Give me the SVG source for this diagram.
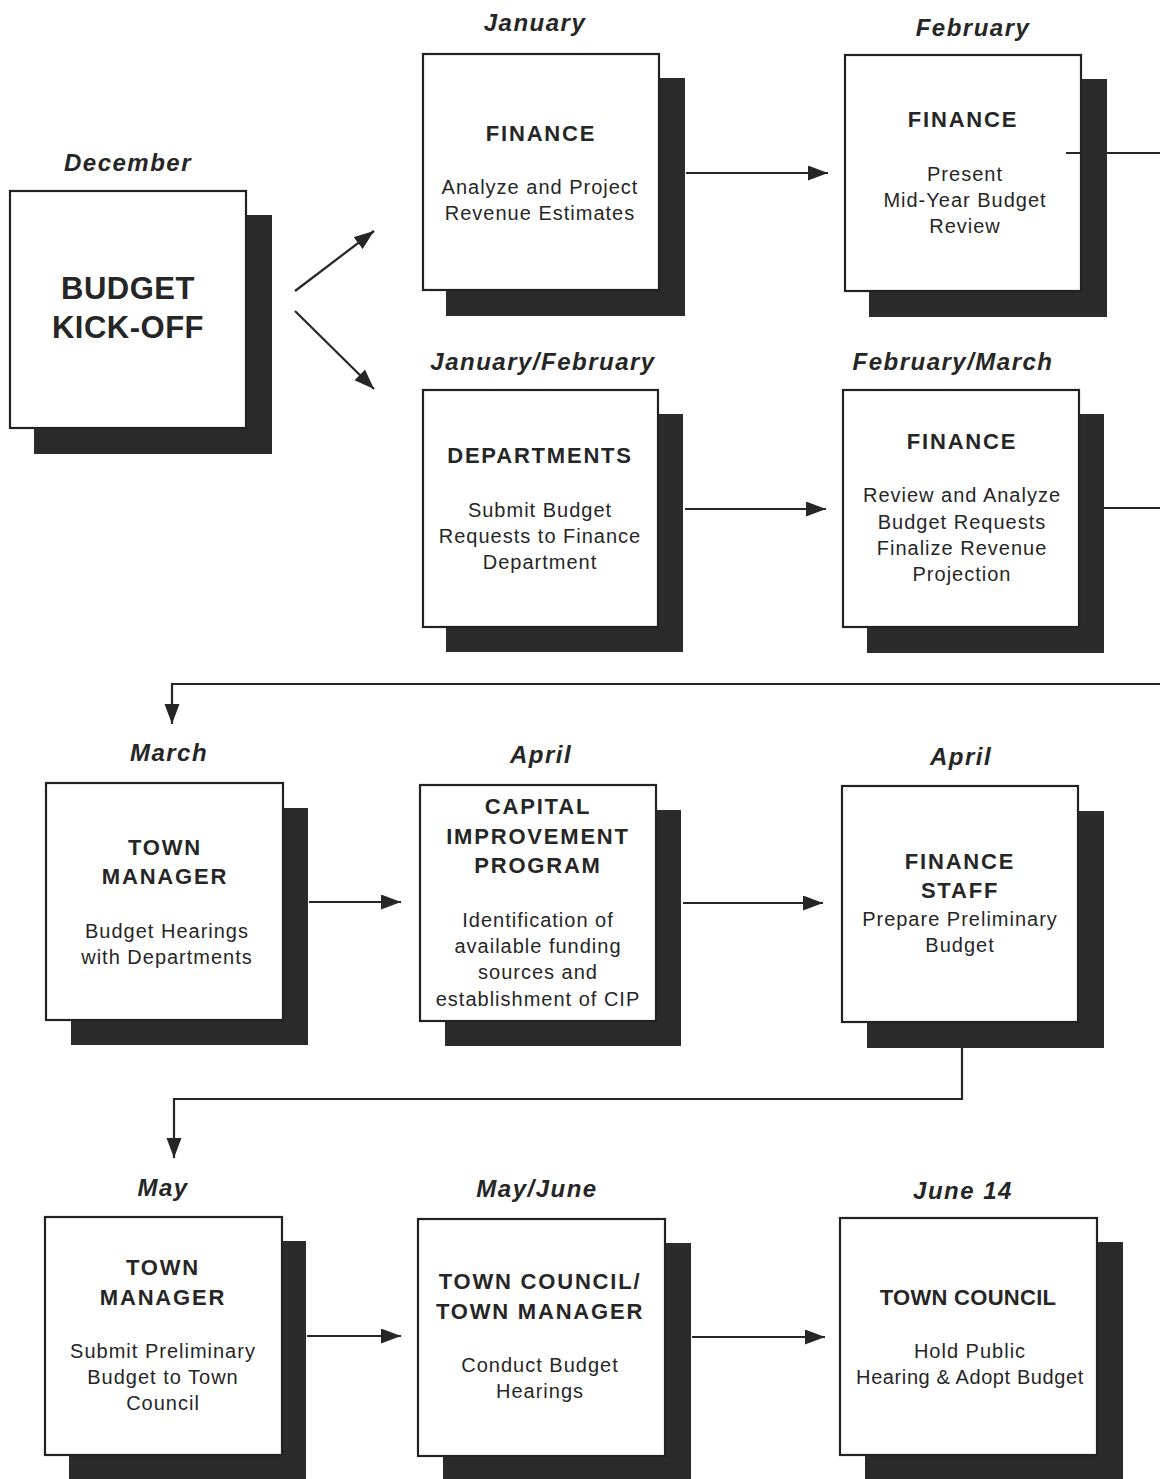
<svg xmlns="http://www.w3.org/2000/svg" width="1160" height="1479" viewBox="0 0 1160 1479">
<defs>
<style>
.sh{fill:#2b2b2b}
.bx{fill:#fff;stroke:#222;stroke-width:2.2}
.mo{font-family:"Liberation Sans",Arial,sans-serif;font-weight:bold;font-style:italic;font-size:24px;fill:#262626;text-anchor:middle;letter-spacing:1.5px}
.ti{font-family:"Liberation Sans",Arial,sans-serif;font-weight:bold;font-size:22px;fill:#262626;text-anchor:middle;letter-spacing:1.8px}
.bd{font-family:"Liberation Sans",Arial,sans-serif;font-size:20px;fill:#262626;text-anchor:middle;letter-spacing:1px}
.big{font-family:"Liberation Sans",Arial,sans-serif;font-weight:bold;font-size:31px;fill:#262626;text-anchor:middle;letter-spacing:0.5px}
.ln{fill:none;stroke:#262626;stroke-width:2.2}
</style>
<marker id="ah" markerUnits="userSpaceOnUse" markerWidth="22" markerHeight="16" refX="20" refY="7.5" orient="auto">
<path d="M0,0 L20,7.5 L0,15 Z" fill="#262626"/>
</marker>
</defs>
<rect width="1160" height="1479" fill="#fff"/>

<g id="n-december">
<text class="mo" x="128" y="171">December</text>
<rect class="sh" x="34" y="215" width="238" height="239"/>
<rect class="bx" x="10" y="191" width="236" height="237"/>
<text class="big" x="128" y="299">BUDGET</text>
<text class="big" x="128" y="338">KICK-OFF</text>
</g>

<g id="n-january">
<text class="mo" x="535" y="31">January</text>
<rect class="sh" x="446" y="78" width="239" height="238"/>
<rect class="bx" x="423" y="54" width="236" height="236"/>
<text class="ti" x="541" y="141">FINANCE</text>
<text class="bd" x="540" y="194">Analyze and Project</text>
<text class="bd" x="540" y="220">Revenue Estimates</text>
</g>

<g id="n-february">
<text class="mo" x="973" y="36">February</text>
<rect class="sh" x="869" y="79" width="238" height="238"/>
<rect class="bx" x="845" y="55" width="236" height="236"/>
<text class="ti" x="963" y="127">FINANCE</text>
<text class="bd" x="965" y="181">Present</text>
<text class="bd" x="965" y="207">Mid-Year Budget</text>
<text class="bd" x="965" y="233">Review</text>
</g>

<g id="n-janfeb">
<text class="mo" x="543" y="370">January/February</text>
<rect class="sh" x="446" y="414" width="237" height="238"/>
<rect class="bx" x="423" y="390" width="235" height="237"/>
<text class="ti" x="540" y="463">DEPARTMENTS</text>
<text class="bd" x="540" y="517">Submit Budget</text>
<text class="bd" x="540" y="543">Requests to Finance</text>
<text class="bd" x="540" y="569">Department</text>
</g>

<g id="n-febmar">
<text class="mo" x="953" y="370">February/March</text>
<rect class="sh" x="867" y="414" width="237" height="239"/>
<rect class="bx" x="843" y="390" width="236" height="237"/>
<text class="ti" x="962" y="449">FINANCE</text>
<text class="bd" x="962" y="502">Review and Analyze</text>
<text class="bd" x="962" y="529">Budget Requests</text>
<text class="bd" x="962" y="555">Finalize Revenue</text>
<text class="bd" x="962" y="581">Projection</text>
</g>

<g id="n-march">
<text class="mo" x="169" y="761">March</text>
<rect class="sh" x="71" y="808" width="237" height="237"/>
<rect class="bx" x="46" y="783" width="237" height="237"/>
<text class="ti" x="165" y="855">TOWN</text>
<text class="ti" x="165" y="884">MANAGER</text>
<text class="bd" x="167" y="938">Budget Hearings</text>
<text class="bd" x="167" y="964">with Departments</text>
</g>

<g id="n-april-cip">
<text class="mo" x="541" y="763">April</text>
<rect class="sh" x="445" y="810" width="236" height="236"/>
<rect class="bx" x="420" y="785" width="236" height="236"/>
<text class="ti" x="538" y="814">CAPITAL</text>
<text class="ti" x="538" y="844">IMPROVEMENT</text>
<text class="ti" x="538" y="873">PROGRAM</text>
<text class="bd" x="538" y="927">Identification of</text>
<text class="bd" x="538" y="953">available funding</text>
<text class="bd" x="538" y="979">sources and</text>
<text class="bd" x="538" y="1006">establishment of CIP</text>
</g>

<g id="n-april-finance">
<text class="mo" x="961" y="765">April</text>
<rect class="sh" x="867" y="811" width="237" height="237"/>
<rect class="bx" x="842" y="786" width="236" height="236"/>
<text class="ti" x="960" y="869">FINANCE</text>
<text class="ti" x="960" y="898">STAFF</text>
<text class="bd" x="960" y="926">Prepare Preliminary</text>
<text class="bd" x="960" y="952">Budget</text>
</g>

<g id="n-may">
<text class="mo" x="163" y="1196">May</text>
<rect class="sh" x="69" y="1241" width="237" height="240"/>
<rect class="bx" x="45" y="1217" width="237" height="238"/>
<text class="ti" x="163" y="1275">TOWN</text>
<text class="ti" x="163" y="1305">MANAGER</text>
<text class="bd" x="163" y="1358">Submit Preliminary</text>
<text class="bd" x="163" y="1384">Budget to Town</text>
<text class="bd" x="163" y="1410">Council</text>
</g>

<g id="n-mayjune">
<text class="mo" x="537" y="1197">May/June</text>
<rect class="sh" x="443" y="1243" width="248" height="238"/>
<rect class="bx" x="418" y="1219" width="247" height="237"/>
<text class="ti" x="540" y="1289">TOWN COUNCIL/</text>
<text class="ti" x="540" y="1319">TOWN MANAGER</text>
<text class="bd" x="540" y="1372">Conduct Budget</text>
<text class="bd" x="540" y="1398">Hearings</text>
</g>

<g id="n-june14">
<text class="mo" x="963" y="1199">June 14</text>
<rect class="sh" x="865" y="1242" width="258" height="239"/>
<rect class="bx" x="840" y="1218" width="257" height="237"/>
<text class="ti" x="968" y="1305" style="letter-spacing:0.3px">TOWN COUNCIL</text>
<text class="bd" x="970" y="1358">Hold Public</text>
<text class="bd" x="970" y="1384" style="letter-spacing:0.6px">Hearing &amp; Adopt Budget</text>
</g>

<g id="connectors">
<path class="ln" d="M295,291 L374,231" marker-end="url(#ah)"/>
<path class="ln" d="M295,311 L374,389" marker-end="url(#ah)"/>
<path class="ln" d="M686,173 H828" marker-end="url(#ah)"/>
<path class="ln" d="M685,509 H826" marker-end="url(#ah)"/>
<path class="ln" d="M1066,153 H1081 M1107,153 H1160"/>
<path class="ln" d="M1104,508 H1160"/>
<path class="ln" d="M1160,684 H172 V724" marker-end="url(#ah)"/>
<path class="ln" d="M309,902 H401" marker-end="url(#ah)"/>
<path class="ln" d="M683,903 H823" marker-end="url(#ah)"/>
<path class="ln" d="M962,1048 V1099 H174 V1158" marker-end="url(#ah)"/>
<path class="ln" d="M307,1336 H401" marker-end="url(#ah)"/>
<path class="ln" d="M692,1337 H825" marker-end="url(#ah)"/>
</g>
</svg>
